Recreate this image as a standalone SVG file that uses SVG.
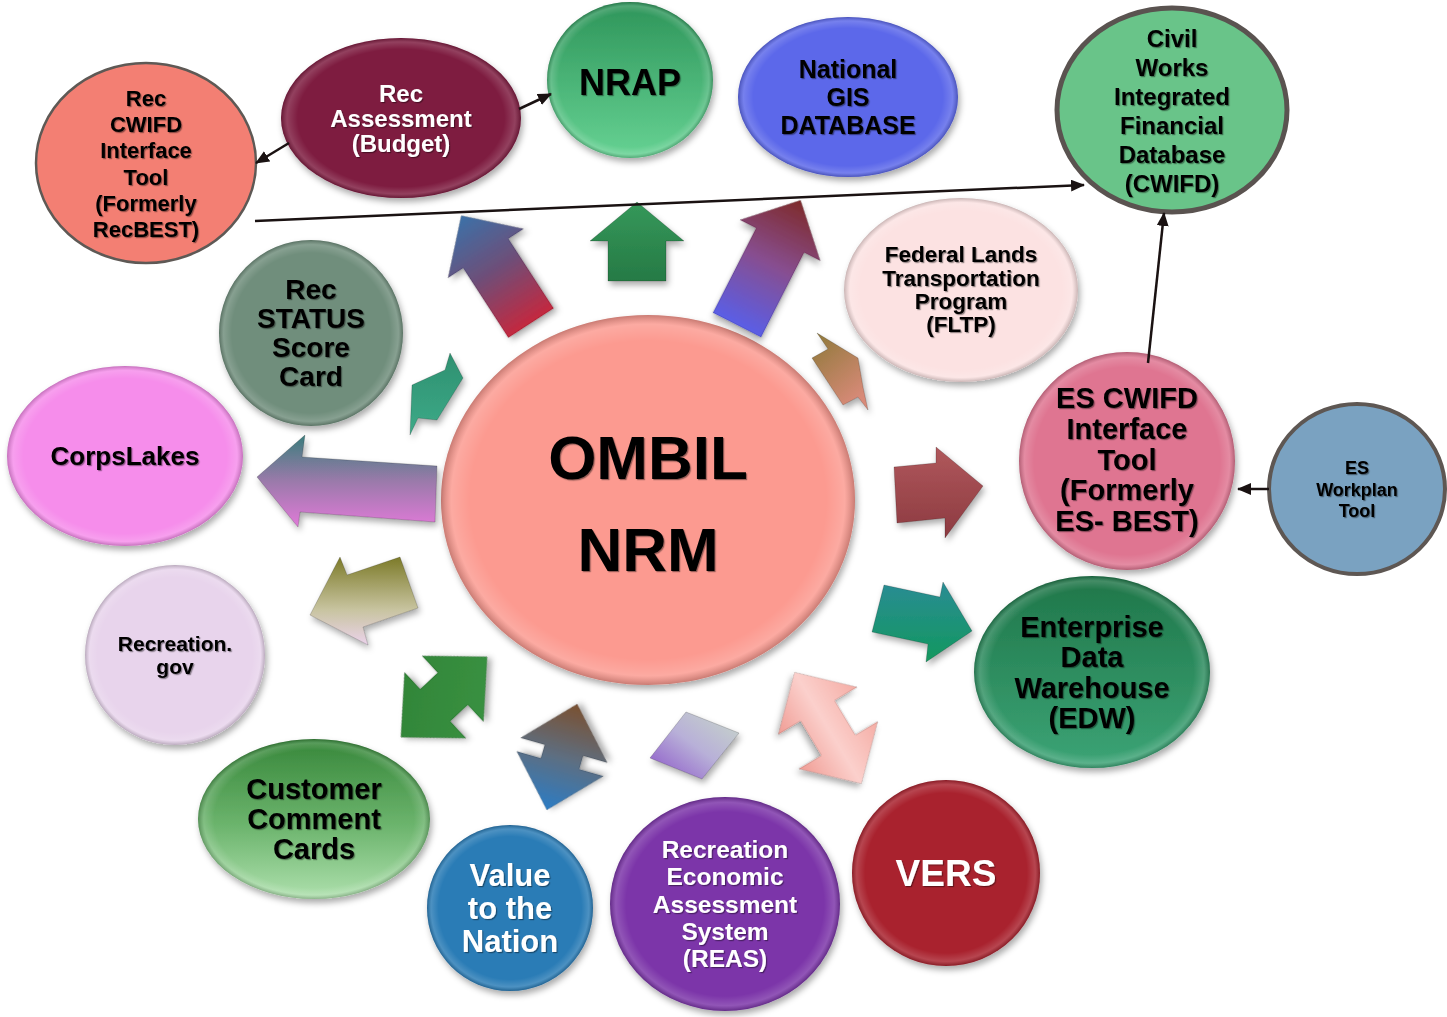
<svg xmlns="http://www.w3.org/2000/svg" width="1447" height="1017" viewBox="0 0 1447 1017">
<defs>
<style>
.t{font-family:"Liberation Sans",Arial,sans-serif;font-weight:bold;text-anchor:middle;fill:#000;filter:url(#ts)}
.w{fill:#fff}
.sh{filter:url(#ds)}
.ln{stroke:#1a1212;stroke-width:2.5;fill:none;marker-end:url(#ah)}
.ba{stroke:rgba(0,0,0,0.18);stroke-width:1;filter:url(#ds)}
.bev{fill:url(#bevel)}
</style>
<filter id="ds" x="-20%" y="-20%" width="140%" height="140%">
<feDropShadow dx="2" dy="4" stdDeviation="3" flood-color="#000" flood-opacity="0.33"/>
</filter>
<filter id="ts" x="-10%" y="-20%" width="120%" height="150%">
<feDropShadow dx="1.2" dy="1.2" stdDeviation="0.7" flood-color="#000" flood-opacity="0.4"/>
</filter>
<marker id="ah" viewBox="0 0 14 12" refX="13" refY="6" markerWidth="14" markerHeight="12" markerUnits="userSpaceOnUse" orient="auto">
<path d="M0,0 L14,6 L0,12 z" fill="#1a1212"/>
</marker>
<radialGradient id="bevel" cx="0.5" cy="0.5" r="0.5">
<stop offset="0" stop-color="#fff" stop-opacity="0"/>
<stop offset="0.86" stop-color="#fff" stop-opacity="0"/>
<stop offset="0.95" stop-color="#fff" stop-opacity="0.16"/>
<stop offset="1" stop-color="#000" stop-opacity="0.2"/>
</radialGradient>
<linearGradient id="gNRAP" x1="0" y1="0" x2="0" y2="1"><stop offset="0" stop-color="#2E955A"/><stop offset="1" stop-color="#66D293"/></linearGradient>
<linearGradient id="gEDW" x1="0" y1="0" x2="0" y2="1"><stop offset="0" stop-color="#1F7649"/><stop offset="1" stop-color="#3CA476"/></linearGradient>
<linearGradient id="gCCC" x1="0" y1="0" x2="0" y2="1"><stop offset="0" stop-color="#37873A"/><stop offset="0.55" stop-color="#6DB56E"/><stop offset="1" stop-color="#AEE0AD"/></linearGradient>
<linearGradient id="gA1" x1="0" y1="0" x2="0" y2="1"><stop offset="0" stop-color="#3C71A8"/><stop offset="0.5" stop-color="#6E4E78"/><stop offset="1" stop-color="#C4283F"/></linearGradient>
<linearGradient id="gA2" x1="0" y1="0" x2="0" y2="1"><stop offset="0" stop-color="#35985A"/><stop offset="1" stop-color="#267A45"/></linearGradient>
<linearGradient id="gA3" x1="0" y1="0" x2="0" y2="1"><stop offset="0" stop-color="#7E2A2A"/><stop offset="0.5" stop-color="#874E90"/><stop offset="1" stop-color="#5A5EE6"/></linearGradient>
<linearGradient id="gA4" x1="0" y1="0" x2="0.6" y2="1"><stop offset="0" stop-color="#8C7838"/><stop offset="1" stop-color="#D88A78"/></linearGradient>
<linearGradient id="gA5" x1="0" y1="0" x2="0" y2="1"><stop offset="0" stop-color="#2E9070"/><stop offset="1" stop-color="#3DAA88"/></linearGradient>
<linearGradient id="gA6" x1="0" y1="0" x2="0" y2="1"><stop offset="0" stop-color="#3A7C7C"/><stop offset="0.5" stop-color="#9A7AAA"/><stop offset="1" stop-color="#E07AD8"/></linearGradient>
<linearGradient id="gA7" x1="0" y1="0" x2="0" y2="1"><stop offset="0" stop-color="#7C7A28"/><stop offset="0.6" stop-color="#C8C4A0"/><stop offset="1" stop-color="#EBD3EB"/></linearGradient>
<linearGradient id="gA8" x1="0" y1="0" x2="1" y2="1"><stop offset="0" stop-color="#2F8236"/><stop offset="1" stop-color="#3C9443"/></linearGradient>
<linearGradient id="gA9" x1="1" y1="0" x2="0" y2="0"><stop offset="0" stop-color="#7A5030"/><stop offset="0.5" stop-color="#5E6E80"/><stop offset="1" stop-color="#2C7CC4"/></linearGradient>
<linearGradient id="gA10" x1="0" y1="1" x2="1" y2="0"><stop offset="0" stop-color="#8A52C8"/><stop offset="0.5" stop-color="#B8B0D8"/><stop offset="1" stop-color="#C8D8C8"/></linearGradient>
<linearGradient id="gA11" x1="0" y1="0" x2="0" y2="1"><stop offset="0" stop-color="#F5ADA5"/><stop offset="0.5" stop-color="#FBD0CC"/><stop offset="1" stop-color="#F09C94"/></linearGradient>
<linearGradient id="gA12" x1="0" y1="0" x2="0" y2="1"><stop offset="0" stop-color="#2A8C94"/><stop offset="1" stop-color="#12985E"/></linearGradient>
<linearGradient id="gA13" x1="0" y1="0" x2="0" y2="1"><stop offset="0" stop-color="#B0585C"/><stop offset="1" stop-color="#8C3A40"/></linearGradient>
</defs>
<rect x="0" y="0" width="1447" height="1017" fill="#fff"/>

<g id="node-ombil">
<ellipse class="sh" cx="648" cy="500" rx="207" ry="185" fill="#FC9A90"/>
<ellipse class="bev" cx="648" cy="500" rx="207" ry="185"/>
<text class="t" x="648" y="479" font-size="62">OMBIL</text>
<text class="t" x="648" y="571" font-size="62">NRM</text>
</g>

<g id="radial-arrows">
<polygon class="ba" fill="url(#gA1)" points="-27,0 -27,-83 -45,-83 0,-128 45,-83 27,-83 27,0" transform="translate(531,323) rotate(-33)"/>
<polygon class="ba" fill="url(#gA2)" points="-29,0 -29,-40 -47,-40 0,-79 47,-40 29,-40 29,0" transform="translate(637,281)"/>
<polygon class="ba" fill="url(#gA3)" points="-27,0 -27,-95 -45,-95 0,-140 45,-95 27,-95 27,0" transform="translate(737,325) rotate(27)"/>
<polygon class="ba" fill="url(#gA4)" points="817,333 858,358 863,387 868,410 858,397 843,405 812,358 828,349"/>
<polygon class="ba" fill="url(#gA5)" points="450,353 463,378 437,420 418,418 410,435 412,385 445,370"/>
<polygon class="ba" fill="url(#gA6)" points="257,477 305,435 302,457 437,466 435,522 300,512 298,527"/>
<polygon class="ba" fill="url(#gA7)" points="310,615 340,557 347,575 400,557 418,608 363,627 368,645"/>
<polygon class="ba" fill="url(#gA8)" points="59,0 12,-45 12,-22 -12,-22 -12,-45 -59,0 -12,45 -12,22 12,22 12,45" transform="translate(444,697) rotate(-43)"/>
<polygon class="ba" fill="url(#gA9)" points="55,0 7,-45 7,-20 -7,-20 -7,-45 -55,0 -7,45 -7,20 7,20 7,45" transform="translate(562,757) rotate(-74)"/>
<polygon class="ba" fill="url(#gA10)" points="686,712 739,733 702,779 650,758"/>
<polygon class="ba" fill="url(#gA11)" points="65,0 20,-46 20,-20 -20,-20 -20,-46 -65,0 -20,46 -20,20 20,20 20,46" transform="translate(828,728) rotate(59)"/>
<polygon class="ba" fill="url(#gA12)" points="884,585 940,597 943,582 972,631 926,662 928,644 872,632"/>
<polygon class="ba" fill="url(#gA13)" points="894,467 936,463 936,447 983,486 945,538 945,518 897,523"/>
</g>

<g id="node-rec-cwifd">
<ellipse cx="146" cy="163" rx="110" ry="100" fill="#F37F73" stroke="#5E5955" stroke-width="2.5"/>
<g font-size="22">
<text class="t" x="146" y="106">Rec</text>
<text class="t" x="146" y="132">CWIFD</text>
<text class="t" x="146" y="158">Interface</text>
<text class="t" x="146" y="185">Tool</text>
<text class="t" x="146" y="211">(Formerly</text>
<text class="t" x="146" y="237">RecBEST)</text>
</g>
</g>

<g id="node-rec-assessment">
<ellipse class="sh" cx="401" cy="118" rx="120" ry="80" fill="#7E1A40"/>
<ellipse class="bev" cx="401" cy="118" rx="120" ry="80"/>
<g font-size="24">
<text class="t w" x="401" y="101.5">Rec</text>
<text class="t w" x="401" y="126.5">Assessment</text>
<text class="t w" x="401" y="151.5">(Budget)</text>
</g>
</g>

<g id="node-nrap">
<ellipse class="sh" cx="630" cy="80" rx="83" ry="78" fill="url(#gNRAP)"/>
<ellipse class="bev" cx="630" cy="80" rx="83" ry="78"/>
<text class="t" x="630" y="95" font-size="36">NRAP</text>
</g>

<g id="node-national-gis">
<ellipse class="sh" cx="848" cy="97" rx="110" ry="80" fill="#5B67EA"/>
<ellipse class="bev" cx="848" cy="97" rx="110" ry="80"/>
<g font-size="25">
<text class="t" x="848" y="78">National</text>
<text class="t" x="848" y="106">GIS</text>
<text class="t" x="848" y="134">DATABASE</text>
</g>
</g>

<g id="node-cwifd">
<ellipse cx="1172" cy="110" rx="115" ry="102" fill="#69C489" stroke="#5A5350" stroke-width="5"/>
<g font-size="24">
<text class="t" x="1172" y="47">Civil</text>
<text class="t" x="1172" y="76">Works</text>
<text class="t" x="1172" y="105">Integrated</text>
<text class="t" x="1172" y="134">Financial</text>
<text class="t" x="1172" y="163">Database</text>
<text class="t" x="1172" y="192">(CWIFD)</text>
</g>
</g>

<g id="node-fltp">
<ellipse class="sh" cx="961" cy="290" rx="117" ry="92" fill="#FCE2E2"/>
<ellipse class="bev" cx="961" cy="290" rx="117" ry="92"/>
<g font-size="22.5">
<text class="t" x="961" y="262">Federal Lands</text>
<text class="t" x="961" y="286">Transportation</text>
<text class="t" x="961" y="309">Program</text>
<text class="t" x="961" y="332">(FLTP)</text>
</g>
</g>

<g id="node-rec-status">
<ellipse class="sh" cx="311" cy="333" rx="92" ry="93" fill="#6F8E7C"/>
<ellipse class="bev" cx="311" cy="333" rx="92" ry="93"/>
<g font-size="28">
<text class="t" x="311" y="299">Rec</text>
<text class="t" x="311" y="328">STATUS</text>
<text class="t" x="311" y="357">Score</text>
<text class="t" x="311" y="386">Card</text>
</g>
</g>

<g id="node-corpslakes">
<ellipse class="sh" cx="125" cy="456" rx="118" ry="90" fill="#F68DEB"/>
<ellipse class="bev" cx="125" cy="456" rx="118" ry="90"/>
<text class="t" x="125" y="465" font-size="26">CorpsLakes</text>
</g>

<g id="node-es-cwifd">
<ellipse class="sh" cx="1127" cy="461" rx="108" ry="109" fill="#DF7591"/>
<ellipse class="bev" cx="1127" cy="461" rx="108" ry="109"/>
<g font-size="29">
<text class="t" x="1127" y="408">ES CWIFD</text>
<text class="t" x="1127" y="439">Interface</text>
<text class="t" x="1127" y="470">Tool</text>
<text class="t" x="1127" y="500">(Formerly</text>
<text class="t" x="1127" y="531">ES- BEST)</text>
</g>
</g>

<g id="node-es-workplan">
<ellipse cx="1357" cy="489" rx="88" ry="85" fill="#7AA2C1" stroke="#5E5753" stroke-width="4"/>
<g font-size="18">
<text class="t" x="1357" y="474">ES</text>
<text class="t" x="1357" y="496">Workplan</text>
<text class="t" x="1357" y="517">Tool</text>
</g>
</g>

<g id="node-recreation-gov">
<ellipse class="sh" cx="175" cy="655" rx="90" ry="90" fill="#E8D4EC"/>
<ellipse class="bev" cx="175" cy="655" rx="90" ry="90"/>
<g font-size="21">
<text class="t" x="175" y="651">Recreation.</text>
<text class="t" x="175" y="674">gov</text>
</g>
</g>

<g id="node-edw">
<ellipse class="sh" cx="1092" cy="672" rx="118" ry="96" fill="url(#gEDW)"/>
<ellipse class="bev" cx="1092" cy="672" rx="118" ry="96"/>
<g font-size="29">
<text class="t" x="1092" y="637">Enterprise</text>
<text class="t" x="1092" y="667">Data</text>
<text class="t" x="1092" y="698">Warehouse</text>
<text class="t" x="1092" y="728">(EDW)</text>
</g>
</g>

<g id="node-customer-comment-cards">
<ellipse class="sh" cx="314" cy="819" rx="116" ry="80" fill="url(#gCCC)"/>
<ellipse class="bev" cx="314" cy="819" rx="116" ry="80"/>
<g font-size="29">
<text class="t" x="314" y="799">Customer</text>
<text class="t" x="314" y="829">Comment</text>
<text class="t" x="314" y="859">Cards</text>
</g>
</g>

<g id="node-value-to-the-nation">
<ellipse class="sh" cx="510" cy="908" rx="83" ry="83" fill="#2B7BB6"/>
<ellipse class="bev" cx="510" cy="908" rx="83" ry="83"/>
<g font-size="31">
<text class="t w" x="510" y="886">Value</text>
<text class="t w" x="510" y="919">to the</text>
<text class="t w" x="510" y="952">Nation</text>
</g>
</g>

<g id="node-reas">
<ellipse class="sh" cx="725" cy="904" rx="115" ry="107" fill="#7B36A9"/>
<ellipse class="bev" cx="725" cy="904" rx="115" ry="107"/>
<g font-size="24.5">
<text class="t w" x="725" y="857.5">Recreation</text>
<text class="t w" x="725" y="885">Economic</text>
<text class="t w" x="725" y="912.5">Assessment</text>
<text class="t w" x="725" y="940">System</text>
<text class="t w" x="725" y="967">(REAS)</text>
</g>
</g>

<g id="node-vers">
<ellipse class="sh" cx="946" cy="873" rx="94" ry="93" fill="#A9222F"/>
<ellipse class="bev" cx="946" cy="873" rx="94" ry="93"/>
<text class="t w" x="946" y="886" font-size="37">VERS</text>
</g>

<g id="connectors">
<line class="ln" x1="289" y1="143" x2="256" y2="163"/>
<line class="ln" x1="519" y1="109" x2="551" y2="94"/>
<line class="ln" x1="255" y1="221" x2="1084" y2="185"/>
<line class="ln" x1="1148" y1="363" x2="1164" y2="213"/>
<line class="ln" x1="1269" y1="489" x2="1238" y2="489"/>
</g>
</svg>
